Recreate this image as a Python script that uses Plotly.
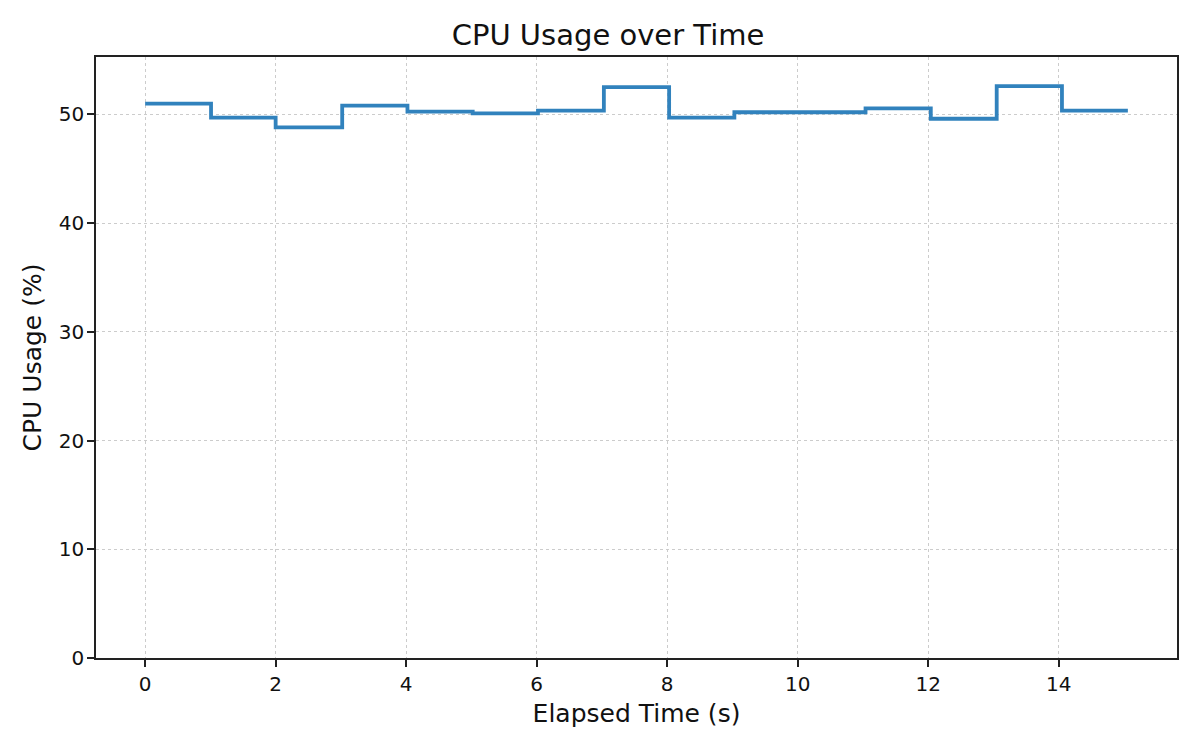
import plotly.graph_objects as go

# elapsed time (s) and CPU usage (%) samples, drawn as a post-step line
elapsed_s = [0.0, 1.01, 2.0, 3.02, 4.02, 5.02, 6.02, 7.03, 8.03, 9.03,
             10.04, 11.04, 12.04, 13.05, 14.05, 15.06]
cpu_pct = [51.0, 49.7, 48.8, 50.8, 50.25, 50.1, 50.35, 52.5, 49.7, 50.2,
           50.2, 50.55, 49.6, 52.6, 50.35, 50.35]

x_ticks = [0, 2, 4, 6, 8, 10, 12, 14]
y_ticks = [0, 10, 20, 30, 40, 50]

FONT = "DejaVu Sans"

fig = go.Figure()
fig.add_trace(go.Scatter(
    x=elapsed_s, y=cpu_pct, mode="lines",
    line={"color": "#3182bd", "width": 3.8, "shape": "hv"},
    showlegend=False,
))

axis_common = dict(
    showline=True, linecolor="#222222", linewidth=1.7, mirror=True,
    ticks="outside", ticklen=7, tickwidth=1.6, tickcolor="#222222",
    showgrid=True, gridcolor="#cccccc", griddash="dot", gridwidth=1.3,
    zeroline=False,
    tickfont={"family": FONT, "size": 20, "color": "#111111"},
)

# the page puts the figure 8px in from the window edge, margins account for it
fig.update_layout(
    width=1200, height=750,
    paper_bgcolor="white", plot_bgcolor="white",
    margin={"l": 88, "r": 31, "t": 49, "b": 100},
    title={"text": "CPU Usage over Time", "x": 0.5, "xanchor": "center",
           "y": 0.964, "yanchor": "middle",
           "font": {"family": FONT, "size": 29, "color": "#111111"}},
    xaxis=dict(axis_common, range=[-0.753, 15.813], tickvals=x_ticks,
               ticklabelstandoff=0,
               title={"text": "Elapsed Time (s)", "standoff": 10,
                      "font": {"family": FONT, "size": 25, "color": "#111111"}}),
    yaxis=dict(axis_common, range=[0, 55.28], tickvals=y_ticks,
               ticklabelstandoff=-1,
               title={"text": "CPU Usage (%)", "standoff": 10,
                      "font": {"family": FONT, "size": 25, "color": "#111111"}}),
)

fig.write_html("out.html")
